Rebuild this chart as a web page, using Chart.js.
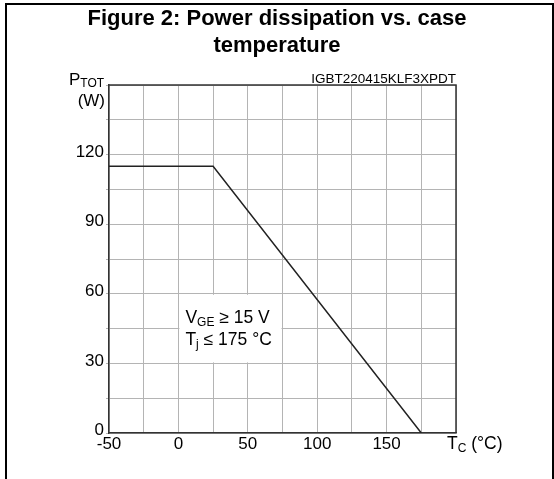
<!DOCTYPE html>
<html>
<head>
<meta charset="utf-8">
<script src="https://cdn.jsdelivr.net/npm/chart.js@4/dist/chart.umd.min.js"></script>
<style>
  html, body { margin: 0; padding: 0; background: #fff; }
  #wrap { position: relative; width: 554px; height: 479px; }
</style>
</head>
<body>
<div id="wrap"><canvas id="c" width="554" height="479"></canvas></div>
<script>
// ---- data ----
const caseTemp = [-50, 25, 175];          // T_C (°C)
const powerDiss = [115, 115, 0];          // P_TOT (W)
const xTickLabels = [-50, 0, 50, 100, 150];
const yTickLabels = [0, 30, 60, 90, 120];
const titleLines = ['Figure 2: Power dissipation vs. case', 'temperature'];
const partCode = 'IGBT220415KLF3XPDT';

const FONT = '"Liberation Sans", Arial, sans-serif';

const decor = {
  id: 'decor',
  afterDraw(chart) {
    const ctx = chart.ctx;
    const a = chart.chartArea;
    const xs = chart.scales.x, ys = chart.scales.y;
    ctx.save();
    // outer frame
    ctx.fillStyle = '#000';
    ctx.fillRect(5, 3, 549, 2);
    ctx.fillRect(5, 3, 2, 476);
    ctx.fillRect(552, 3, 2, 476);

    // title
    ctx.fillStyle = '#000';
    ctx.textAlign = 'center';
    ctx.textBaseline = 'alphabetic';
    ctx.font = 'bold 22px ' + FONT;
    ctx.fillText(titleLines[0], 277, 25);
    ctx.fillText(titleLines[1], 277, 52);

    // plot top & right border
    ctx.strokeStyle = '#333';
    ctx.lineWidth = 1.5;
    ctx.beginPath();
    ctx.moveTo(a.left, a.top);
    ctx.lineTo(a.right, a.top);
    ctx.lineTo(a.right, a.bottom);
    ctx.stroke();

    // part code
    ctx.font = '13.5px ' + FONT;
    ctx.textAlign = 'right';
    ctx.fillText(partCode, a.right, a.top - 2);

    // axis titles with subscripts
    ctx.textAlign = 'left';
    ctx.font = '17px ' + FONT;
    ctx.fillText('P', 69, 85);
    let w = ctx.measureText('P').width;
    ctx.font = '12px ' + FONT;
    ctx.fillText('TOT', 69 + w, 87);
    ctx.font = '17px ' + FONT;
    ctx.textAlign = 'right';
    ctx.fillText('(W)', 105, 106);

    ctx.textAlign = 'left';
    const tx = xs.getPixelForValue(200) - 9;
    const ty = a.bottom + 16;
    ctx.font = '17.5px ' + FONT;
    ctx.fillText('T', tx, ty);
    w = ctx.measureText('T').width;
    ctx.font = '12px ' + FONT;
    ctx.fillText('C', tx + w, ty + 3);
    let w2 = ctx.measureText('C').width;
    ctx.font = '17.5px ' + FONT;
    ctx.fillText(' (°C)', tx + w + w2, ty);

    // condition box
    const bx0 = xs.getPixelForValue(0), bx1 = xs.getPixelForValue(75);
    const by0 = ys.getPixelForValue(60), by1 = ys.getPixelForValue(30);
    ctx.fillStyle = '#fff';
    ctx.fillRect(bx0 + 1, by0 + 1, bx1 - bx0 - 2, by1 - by0 - 2);
    ctx.fillStyle = '#000';
    ctx.font = '17.5px ' + FONT;
    const lx = bx0 + 7;
    ctx.fillText('V', lx, by0 + 29);
    w = ctx.measureText('V').width;
    ctx.font = '12px ' + FONT;
    ctx.fillText('GE', lx + w, by0 + 32);
    w2 = ctx.measureText('GE').width;
    ctx.font = '17.5px ' + FONT;
    ctx.fillText(' \u2265 15 V', lx + w + w2, by0 + 29);

    ctx.fillText('T', lx, by0 + 51);
    w = ctx.measureText('T').width;
    ctx.font = '12px ' + FONT;
    ctx.fillText('j', lx + w, by0 + 54);
    w2 = ctx.measureText('j').width;
    ctx.font = '17.5px ' + FONT;
    ctx.fillText(' \u2264 175 °C', lx + w + w2, by0 + 51);
    ctx.restore();
  }
};

new Chart(document.getElementById('c'), {
  type: 'line',
  data: {
    datasets: [{
      data: caseTemp.map((x, i) => ({ x: x, y: powerDiss[i] })),
      borderColor: '#222',
      borderWidth: 1.5,
      pointRadius: 0,
      tension: 0,
      fill: false
    }]
  },
  options: {
    responsive: false,
    animation: false,
    layout: { padding: { left: 0, top: 85, right: 98, bottom: 0 } },
    plugins: { legend: { display: false }, tooltip: { enabled: false }, title: { display: false } },
    scales: {
      x: {
        type: 'linear', min: -50, max: 200,
        afterFit(s) { s.height = 46; },
        ticks: {
          stepSize: 25, autoSkip: false, maxRotation: 0, padding: 1,
          color: '#000', font: { family: FONT, size: 17 },
          callback: v => xTickLabels.includes(v) ? String(v) : ''
        },
        grid: { color: '#b4b4b4', lineWidth: 1, drawTicks: false },
        border: { display: true, color: '#333', width: 1.5 }
      },
      y: {
        type: 'linear', min: 0, max: 150,
        afterFit(s) { s.width = 109; },
        ticks: {
          stepSize: 15, autoSkip: false, padding: 2, labelOffset: -2.5,
          color: '#000', font: { family: FONT, size: 17 },
          callback: v => yTickLabels.includes(v) ? String(v) : ''
        },
        grid: { color: '#b4b4b4', lineWidth: 1, tickLength: 3 },
        border: { display: true, color: '#333', width: 1.5 }
      }
    }
  },
  plugins: [decor]
});
</script>
</body>
</html>
